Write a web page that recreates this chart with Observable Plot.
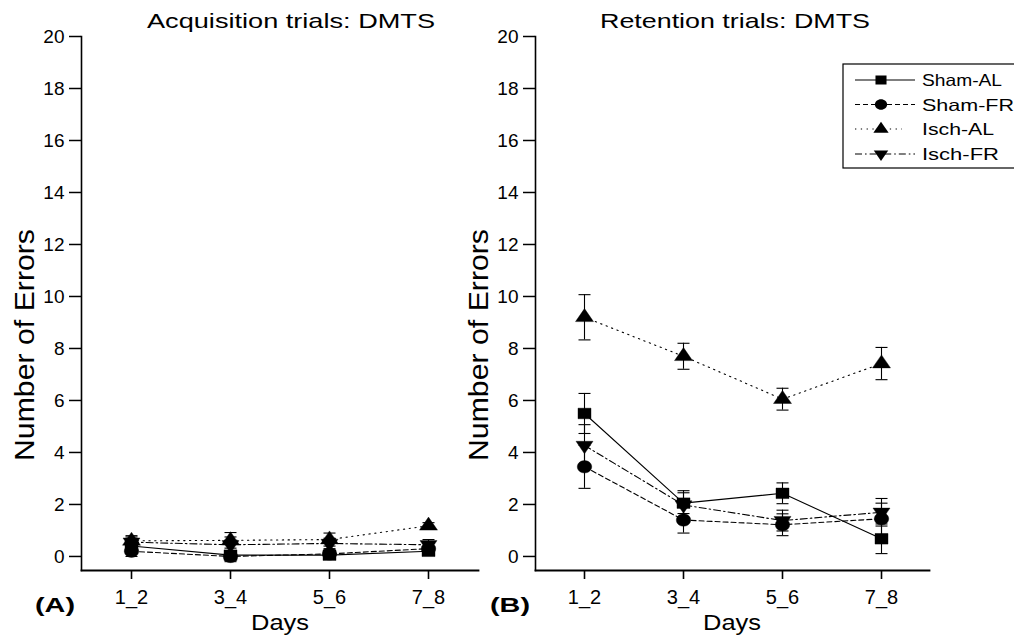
<!DOCTYPE html>
<html><head><meta charset="utf-8">
<script src="https://cdn.jsdelivr.net/npm/d3@7"></script>
<script src="https://cdn.jsdelivr.net/npm/@observablehq/plot@0.6"></script>
<style>
html,body{margin:0;padding:0;background:#fff;}
#wrap{position:relative;width:1014px;height:639px;overflow:hidden;background:#fff;}
#wrap > svg{position:absolute;left:0;top:0;}
</style></head><body><div id="wrap"></div>
<script>
// ---------- data ----------
const days = ["1_2", "3_4", "5_6", "7_8"];
const groups = ["Sham-AL", "Sham-FR", "Isch-AL", "Isch-FR"];
const yTicks = [0, 2, 4, 6, 8, 10, 12, 14, 16, 18, 20];

// (A) Acquisition trials: mean number of errors and error bar half-length
const acqShamAL = [0.40, 0.05, 0.05, 0.20];
const acqShamFR = [0.20, 0.00, 0.10, 0.30];
const acqIschAL = [0.60, 0.62, 0.65, 1.18];
const acqIschFR = [0.55, 0.45, 0.50, 0.45];
const acqShamALErr = [0.25, 0.15, 0.12, 0.15];
const acqShamFRErr = [0.20, 0.20, 0.15, 0.20];
const acqIschALErr = [0.20, 0.30, 0.25, 0.12];
const acqIschFRErr = [0.20, 0.30, 0.20, 0.20];

// (B) Retention trials
const retShamAL = [5.50, 2.05, 2.43, 0.68];
const retShamFR = [3.45, 1.40, 1.22, 1.45];
const retIschAL = [9.20, 7.70, 6.05, 7.42];
const retIschFR = [4.27, 1.98, 1.38, 1.70];
const retShamALErr = [0.77, 0.40, 0.40, 0.57];
const retShamFRErr = [0.83, 0.50, 0.42, 0.60];
const retIschALErr = [0.87, 0.50, 0.42, 0.62];
const retIschFRErr = [0.80, 0.55, 0.40, 0.53];

const titles = ["Acquisition trials: DMTS", "Retention trials: DMTS"];
const panelTags = ["(A)", "(B)"];
const xTitle = "Days";
const yTitle = "Number of Errors";

// ---------- tables ----------
function table(series, errs) {
  const rows = [];
  groups.forEach((g, gi) => days.forEach((d, di) => rows.push({group: g, day: d, value: series[gi][di], err: errs[gi][di]})));
  return rows;
}
const acqRows = table([acqShamAL, acqShamFR, acqIschAL, acqIschFR], [acqShamALErr, acqShamFRErr, acqIschALErr, acqIschFRErr]);
const retRows = table([retShamAL, retShamFR, retIschAL, retIschFR], [retShamALErr, retShamFRErr, retIschALErr, retIschFRErr]);

// ---------- styles ----------
const dash = {"Sham-AL": null, "Sham-FR": "5,3", "Isch-AL": "1.3,4.5", "Isch-FR": "7,3,1.6,3"};
function ellipse(c, rx, ry) {
  const k = 0.5523;
  c.moveTo(rx, 0);
  c.bezierCurveTo(rx, ry * k, rx * k, ry, 0, ry);
  c.bezierCurveTo(-rx * k, ry, -rx, ry * k, -rx, 0);
  c.bezierCurveTo(-rx, -ry * k, -rx * k, -ry, 0, -ry);
  c.bezierCurveTo(rx * k, -ry, rx, -ry * k, rx, 0);
  c.closePath();
}
function makeSymbols(s) {
  return {
    "Sham-AL": {draw(c) { const w = 6.5 * s, h = 5.3 * s; c.moveTo(-w, -h); c.lineTo(w, -h); c.lineTo(w, h); c.lineTo(-w, h); c.closePath(); }},
    "Sham-FR": {draw(c) { ellipse(c, 7.2 * s, 6.2 * s); }},
    "Isch-AL": {draw(c) { const w = 9 * s, h = 13 * s; c.moveTo(0, -h * 2 / 3); c.lineTo(w, h / 3); c.lineTo(-w, h / 3); c.closePath(); }},
    "Isch-FR": {draw(c) { const w = 8.5 * s, h = 12.5 * s; c.moveTo(0, h * 2 / 3); c.lineTo(w, -h / 3); c.lineTo(-w, -h / 3); c.closePath(); }}
  };
}
const sym = makeSymbols(1);
const capSym = {draw(c) { c.moveTo(-6, 0); c.lineTo(6, 0); }};
const font = "'Liberation Sans', Arial, Helvetica, sans-serif";

function panel(rows, marginLeft, marginRight, padding) {
  const marks = [
    Plot.ruleX(rows, {x: "day", y1: d => d.value - d.err, y2: d => d.value + d.err, stroke: "black", strokeWidth: 1.1}),
    Plot.dot(rows, {x: "day", y: d => d.value + d.err, symbol: capSym, fill: "none", stroke: "black", strokeWidth: 1.1}),
    Plot.dot(rows, {x: "day", y: d => d.value - d.err, symbol: capSym, fill: "none", stroke: "black", strokeWidth: 1.1})
  ];
  for (const g of groups) {
    const gr = rows.filter(d => d.group === g);
    marks.push(Plot.line(gr, {x: "day", y: "value", stroke: "black", strokeWidth: 1.1, strokeDasharray: dash[g]}));
  }
  for (const g of groups) {
    const gr = rows.filter(d => d.group === g);
    marks.push(Plot.dot(gr, {x: "day", y: "value", symbol: sym[g], fill: "black", stroke: "black", strokeWidth: 0.4}));
  }
  marks.push(
    Plot.axisY({ticks: yTicks, tickSize: 12, tickPadding: 5, fontSize: 19, strokeWidth: 1.5, label: null}),
    Plot.axisX({tickSize: 9, tickPadding: 10, fontSize: 20, strokeWidth: 1.6, label: null}),
    Plot.frame({anchor: "left", strokeWidth: 1.6}),
    Plot.frame({anchor: "bottom", strokeWidth: 1.8})
  );
  return Plot.plot({
    width: 1014, height: 639,
    marginLeft, marginRight, marginTop: 36, marginBottom: 69,
    x: {type: "point", domain: days, padding},
    y: {domain: [-0.54, 20]},
    style: {background: "transparent", fontFamily: font, color: "black", overflow: "visible"},
    marks
  });
}

const wrap = document.getElementById("wrap");
wrap.appendChild(panel(acqRows, 81, 1014 - 478, 0.49));
wrap.appendChild(panel(retRows, 535, 1014 - 929, 0.48));

// ---------- text & legend overlay ----------
const ov = d3.select(wrap).append("svg").attr("width", 1014).attr("height", 639)
  .style("pointer-events", "none").attr("font-family", font);
function txt(s, x, y, size, len, opts = {}) {
  const t = ov.append("text").attr("x", x).attr("y", y).attr("font-size", size)
    .attr("text-anchor", opts.anchor || "middle").attr("fill", "black").text(s);
  if (len) t.attr("textLength", len).attr("lengthAdjust", "spacingAndGlyphs");
  if (opts.bold) t.attr("font-weight", "bold");
  if (opts.rotate) t.attr("transform", `rotate(-90 ${x} ${y})`);
  return t;
}
txt(titles[0], 291, 28, 21, 288);
txt(titles[1], 735, 28, 21, 270);
txt(xTitle, 280, 630, 22, 58);
txt(xTitle, 732, 630, 22, 58);
txt(panelTags[0], 55, 612, 21, 40, {bold: true});
txt(panelTags[1], 510, 612, 21, 40, {bold: true});
txt(yTitle, 34, 345, 27, 232, {rotate: true});
txt(yTitle, 488, 345, 27, 232, {rotate: true});

// legend
ov.append("rect").attr("x", 843).attr("y", 64).attr("width", 200).attr("height", 104)
  .attr("fill", "white").attr("stroke", "black").attr("stroke-width", 1.2);
const lsym = makeSymbols(0.85);
const legY = [80, 104.5, 129, 154];
const legW = [80, 92, 72, 77];
groups.forEach((g, i) => {
  const y = legY[i];
  const x2 = g === "Isch-AL" ? 902 : 915;
  const ln = ov.append("line").attr("x1", 855).attr("x2", x2).attr("y1", y).attr("y2", y)
    .attr("stroke", "black").attr("stroke-width", 1.1);
  if (dash[g]) ln.attr("stroke-dasharray", dash[g]);
  const p = d3.path(); lsym[g].draw(p);
  ov.append("path").attr("d", p.toString()).attr("transform", `translate(881,${y})`).attr("fill", "black");
  txt(g, 922, y + 6, 16.5, legW[i], {anchor: "start"});
});
</script></body></html>
